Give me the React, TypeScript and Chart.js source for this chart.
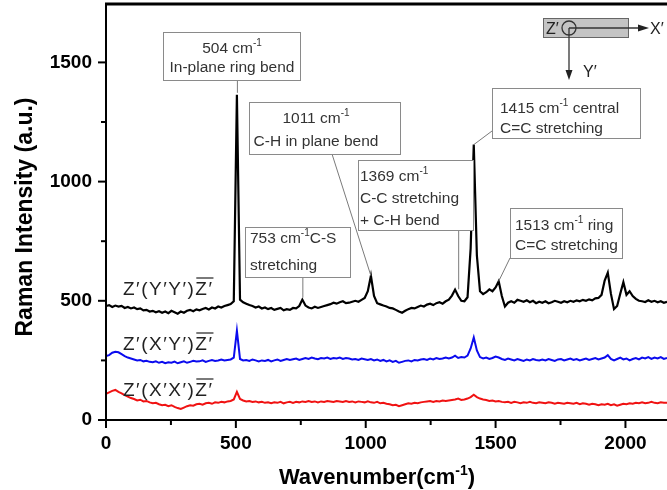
import React, { useEffect, useRef } from 'react';
import { Chart, registerables } from 'chart.js';
Chart.register(...registerables);

// Raman shift (cm^-1)
const wavenumbers = [
  0, 12, 24, 36, 48, 60, 72, 84, 96, 108,
  120, 132, 144, 156, 168, 180, 192, 204, 216, 228,
  240, 252, 264, 276, 288, 300, 312, 324, 336, 348,
  360, 372, 384, 396, 408, 420, 432, 444, 456, 468,
  480, 492, 504, 516, 528, 540, 552, 564, 576, 588,
  600, 612, 624, 636, 648, 660, 672, 684, 696, 708,
  720, 732, 744, 756, 768, 780, 792, 804, 816, 828,
  840, 852, 864, 876, 888, 900, 912, 924, 936, 948,
  960, 972, 984, 996, 1008, 1020, 1032, 1044, 1056, 1068,
  1080, 1092, 1104, 1116, 1128, 1140, 1152, 1164, 1176, 1188,
  1200, 1212, 1224, 1236, 1248, 1260, 1272, 1284, 1296, 1308,
  1320, 1332, 1344, 1356, 1368, 1380, 1392, 1404, 1416, 1428,
  1440, 1452, 1464, 1476, 1488, 1500, 1512, 1524, 1536, 1548,
  1560, 1572, 1584, 1596, 1608, 1620, 1632, 1644, 1656, 1668,
  1680, 1692, 1704, 1716, 1728, 1740, 1752, 1764, 1776, 1788,
  1800, 1812, 1824, 1836, 1848, 1860, 1872, 1884, 1896, 1908,
  1920, 1932, 1944, 1956, 1968, 1980, 1992, 2004, 2016, 2028,
  2040, 2052, 2064, 2076, 2088, 2100, 2112, 2124, 2136, 2148,
  2160,
];

// Z'(Y'Y')Z' (black)
const yyIntensity = [
  478, 482, 474, 480, 476, 479, 470, 474, 468, 472,
  465, 468, 460, 462, 455, 458, 452, 456, 450, 455,
  448, 458, 452, 446, 455, 450, 458, 462, 456, 464,
  460, 466, 470, 464, 472, 468, 476, 472, 478, 482,
  486, 498, 1364, 505, 494, 488, 482, 478, 472, 476,
  468, 472, 465, 470, 462, 466, 470, 460, 465, 462,
  470, 468, 478, 505, 480, 472, 468, 475, 470, 474,
  478, 482, 486, 492, 488, 494, 498, 490, 492, 496,
  500, 496, 504, 512, 540, 605, 520, 490, 485, 480,
  476, 470, 468, 462, 455, 450, 458, 465, 470, 468,
  474, 480, 476, 484, 488, 482, 490, 494, 488, 498,
  505, 522, 547, 520, 500, 498, 515, 720, 1155, 690,
  540, 528, 536, 548, 540, 556, 582, 520, 476, 492,
  498, 492, 504, 500, 496, 502, 494, 500, 490, 496,
  492, 498, 490, 494, 500, 496, 492, 498, 494, 500,
  496, 502, 498, 504, 500, 506, 502, 510, 512, 525,
  585, 618, 530, 465, 478, 530, 578, 525, 540, 520,
  508, 500, 498, 495, 502, 496, 500, 494, 498, 492,
  496,
];

// Z'(X'Y')Z' (blue)
const xyIntensity = [
  268, 272, 282, 286, 284, 276, 268, 262, 258, 254,
  250, 252, 246, 248, 244, 242, 246, 240, 244, 238,
  242, 240, 245, 238, 242, 246, 240, 244, 248, 245,
  246, 250, 244, 248, 252, 248, 250, 254, 250, 252,
  254, 262, 375, 256, 250, 252, 248, 254, 250, 246,
  250, 248, 252, 246, 250, 254, 248, 252, 256, 252,
  255, 258, 252, 256, 260, 256, 262, 258, 255, 260,
  258, 262, 256, 260, 258, 262, 256, 260, 258, 254,
  256, 252, 258, 255, 252, 256, 250, 254, 248, 252,
  246, 250, 244, 248, 240, 244, 248, 250, 246, 252,
  250, 254, 256, 252, 258, 254, 260, 256, 258, 262,
  258, 262, 270, 260, 264, 262, 270, 300, 346, 292,
  264, 258, 262, 256, 260, 266, 262, 256, 252, 258,
  254, 250, 256, 252, 248, 254, 250, 256, 252, 250,
  254, 250, 256, 252, 248, 254, 256, 250, 254, 258,
  252, 256, 250, 254, 258, 252, 256, 260, 254, 258,
  262, 272, 256, 250, 256, 262, 254, 258, 250, 256,
  260, 254, 262, 258, 264, 256, 262, 258, 264, 256,
  260,
];

// Z'(X'X')Z' (red)
const xxIntensity = [
  110, 116, 122, 126, 118, 112, 104, 98, 92, 88,
  82, 85, 78, 80, 74, 70, 72, 66, 62, 64,
  58, 62, 55, 50, 46, 52, 58, 62, 60, 66,
  68, 64, 70, 72, 68, 74, 72, 76, 74, 78,
  80, 86, 118, 88, 82, 78, 80, 76, 78, 74,
  76, 72, 74, 70, 74, 72, 76, 70, 74, 76,
  72, 76, 74, 78, 76, 80, 76, 78, 74, 78,
  76, 80, 78, 76, 80, 78, 76, 80, 76, 78,
  74, 78, 76, 74, 78, 74, 72, 76, 70, 72,
  68, 66, 62, 64, 58, 62, 66, 70, 68, 72,
  70, 74, 76, 78, 80, 76, 80, 78, 82, 80,
  82, 84, 86, 90, 84, 86, 90, 96, 106, 96,
  90, 86, 84, 80, 82, 78, 80, 76, 74, 76,
  72, 76, 74, 70, 74, 72, 76, 72, 70, 74,
  72, 70, 74, 72, 68, 72, 70, 68, 72, 70,
  68, 72, 66, 70, 68, 64, 68, 66, 62, 66,
  64, 68, 62, 66, 60, 64, 68, 66, 70, 68,
  72, 70, 74, 70, 72, 76, 72, 70, 74, 72,
  72,
];

const xTickValues = [0, 500, 1000, 1500, 2000];
const yTickValues = [0, 500, 1000, 1500];

const seriesPrefixes = ['Z′(Y′Y′)', 'Z′(X′Y′)', 'Z′(X′X′)'];
const seriesColors = ['#000000', '#0b0bee', '#f01212'];

// Peak annotations: anchor wavenumber / intensity and text
const peakWavenumbers = [504, 1020, 756, 1356, 1416, 1512];
const peakTopIntensity = [1364, 605, 505, 540, 1155, 582];
const peakTexts = [
  [[['504 cm'], ['-1', 1]], [['In-plane ring bend']]],
  [[['1011 cm'], ['-1', 1]], [['C-H in plane bend']]],
  [[['753 cm'], ['-1', 1], ['C-S']], [['stretching']]],
  [[['1369 cm'], ['-1', 1]], [['C-C stretching']], [['+ C-H bend']]],
  [[['1415 cm'], ['-1', 1], [' central']], [['C=C stretching']]],
  [[['1513 cm'], ['-1', 1], [' ring']], [['C=C stretching']]],
];

// layout of annotation boxes (pixels)
const noteLayout = [
  { box: [163, 32, 300, 80], tx: 232, align: 'center', bl: [53, 72], from: [239, 80], mode: 'v' },
  { box: [249, 102, 400, 154], tx: 316, align: 'center', bl: [123, 146], from: [332, 154], mode: 'd' },
  { box: [245, 227, 350, 277], tx: 250, align: 'left', bl: [243, 270], from: [0, 277], mode: 'v' },
  { box: [358, 160, 473, 230], tx: 360, align: 'left', bl: [181, 203, 225], from: [0, 230], mode: 'v' },
  { box: [492, 88, 640, 138], tx: 500, align: 'left', bl: [113, 133], from: [492, 131], mode: 'd' },
  { box: [510, 208, 622, 258], tx: 515, align: 'left', bl: [230, 250], from: [510, 258], mode: 'd' },
];

const FONT = '"Liberation Sans", Arial, "DejaVu Sans", sans-serif';

function drawRich(ctx: CanvasRenderingContext2D, parts: any[], x: number, y: number, size: number, weight: string, align: string) {
  const base = `${weight} ${size}px ${FONT}`;
  const sup = `${weight} ${Math.round(size * 0.62)}px ${FONT}`;
  let total = 0;
  const widths = parts.map((p) => {
    ctx.font = p[1] ? sup : base;
    const w = ctx.measureText(p[0]).width;
    total += w;
    return w;
  });
  let cx = align === 'center' ? x - total / 2 : x;
  ctx.textAlign = 'left';
  ctx.textBaseline = 'alphabetic';
  parts.forEach((p, i) => {
    ctx.font = p[1] ? sup : base;
    ctx.fillText(p[0], cx, p[1] ? y - size * 0.42 : y);
    cx += widths[i];
  });
}

function seg(ctx: CanvasRenderingContext2D, x1: number, y1: number, x2: number, y2: number) {
  ctx.beginPath();
  ctx.moveTo(x1, y1);
  ctx.lineTo(x2, y2);
  ctx.stroke();
}

const decorPlugin = {
  id: 'decor',
  afterDraw(chart: any) {
    const { ctx, chartArea: ca, scales } = chart;
    const xs = scales.x;
    const ys = scales.y;
    ctx.save();

    // axis frame
    ctx.strokeStyle = '#000';
    ctx.lineWidth = 2;
    seg(ctx, ca.left, ca.top - 1, ca.left, ca.bottom + 1);
    seg(ctx, ca.left - 1, ca.bottom, ca.right, ca.bottom);
    ctx.lineWidth = 3;
    seg(ctx, ca.left - 1, ca.top, ca.right, ca.top);

    // tick marks (major + minor)
    ctx.lineWidth = 2;
    for (let v = 0; v <= ys.max; v += 250) {
      const py = ys.getPixelForValue(v);
      const len = v % 500 === 0 ? 8 : 5;
      seg(ctx, ca.left, py, ca.left - len, py);
    }
    for (let v = 0; v <= xs.max; v += 250) {
      const px = xs.getPixelForValue(v);
      const len = v % 500 === 0 ? 8 : 5;
      seg(ctx, px, ca.bottom, px, ca.bottom + len);
    }

    // axis titles
    ctx.fillStyle = '#000';
    drawRich(ctx, [['Wavenumber(cm'], ['-1', 1], [')']], 377, 484, 22, 'bold', 'center');
    ctx.save();
    ctx.translate(32, 217);
    ctx.rotate(-Math.PI / 2);
    drawRich(ctx, [['Raman Intensity (a.u.)']], 0, 0, 23, 'bold', 'center');
    ctx.restore();

    // series labels
    const labelBase = [295, 350, 396];
    seriesPrefixes.forEach((pre, i) => {
      ctx.save();
      ctx.fillStyle = '#222';
      ctx.font = `19px ${FONT}`;
      (ctx as any).letterSpacing = '1.5px';
      ctx.textAlign = 'left';
      ctx.textBaseline = 'alphabetic';
      const x0 = 123;
      ctx.fillText(pre, x0, labelBase[i]);
      const w1 = ctx.measureText(pre).width;
      ctx.fillText('Z′', x0 + w1, labelBase[i]);
      const w2 = ctx.measureText('Z′').width;
      ctx.strokeStyle = '#222';
      ctx.lineWidth = 1.2;
      seg(ctx, x0 + w1 + 1, labelBase[i] - 17, x0 + w1 + w2, labelBase[i] - 17);
      ctx.restore();
    });

    // peak annotations
    noteLayout.forEach((n, i) => {
      const [bx1, by1, bx2, by2] = n.box;
      const px = xs.getPixelForValue(peakWavenumbers[i]);
      const py = ys.getPixelForValue(peakTopIntensity[i]);
      ctx.strokeStyle = '#7a7a7a';
      ctx.lineWidth = 1;
      if (n.mode === 'v') {
        seg(ctx, px + 0.5, by2, px + 0.5, py - 2);
      } else {
        seg(ctx, n.from[0], n.from[1], px, py);
      }
      ctx.fillStyle = '#ffffff';
      ctx.fillRect(bx1, by1, bx2 - bx1, by2 - by1);
      ctx.strokeStyle = '#8a8a8a';
      ctx.strokeRect(bx1 + 0.5, by1 + 0.5, bx2 - bx1, by2 - by1);
      ctx.fillStyle = '#333';
      peakTexts[i].forEach((line: any, j: number) => {
        drawRich(ctx, line, n.tx, n.bl[j], 15.5, 'normal', n.align);
      });
    });

    // orientation inset
    ctx.fillStyle = '#c4c4c4';
    ctx.fillRect(543, 18, 85, 19);
    ctx.strokeStyle = '#666';
    ctx.lineWidth = 1;
    ctx.strokeRect(543.5, 18.5, 85, 19);
    ctx.fillStyle = '#222';
    ctx.font = `16px ${FONT}`;
    ctx.textAlign = 'left';
    ctx.textBaseline = 'alphabetic';
    ctx.fillText('Z′', 546, 34);
    ctx.strokeStyle = '#333';
    ctx.lineWidth = 1.3;
    ctx.beginPath();
    ctx.arc(569, 28, 7, 0, Math.PI * 2);
    ctx.stroke();
    seg(ctx, 569, 28, 640, 28);
    seg(ctx, 569, 28, 569, 72);
    ctx.fillStyle = '#222';
    ctx.beginPath();
    ctx.moveTo(649, 28); ctx.lineTo(638, 24.5); ctx.lineTo(638, 31.5); ctx.closePath(); ctx.fill();
    ctx.beginPath();
    ctx.moveTo(569, 80); ctx.lineTo(565.5, 70); ctx.lineTo(572.5, 70); ctx.closePath(); ctx.fill();
    ctx.font = `16px ${FONT}`;
    ctx.fillText('X′', 650, 34);
    ctx.fillText('Y′', 583, 77);

    ctx.restore();
  },
};

export default function App() {
  const canvasRef = useRef<HTMLCanvasElement | null>(null);

  useEffect(() => {
    if (!canvasRef.current) return;
    const series = [yyIntensity, xyIntensity, xxIntensity];
    const chart = new Chart(canvasRef.current, {
      type: 'line',
      data: {
        datasets: series.map((vals, i) => ({
          label: seriesPrefixes[i],
          data: wavenumbers.map((w, k) => ({ x: w, y: vals[k] })),
          borderColor: seriesColors[i],
          borderWidth: i === 0 ? 2.2 : 2,
          pointRadius: 0,
          tension: 0,
          fill: false,
        })),
      },
      options: {
        responsive: false,
        animation: false,
        devicePixelRatio: 1,
        layout: { padding: { top: 4, right: 0, left: 0, bottom: 0 } },
        plugins: { legend: { display: false }, tooltip: { enabled: false } },
        scales: {
          x: {
            type: 'linear',
            min: 0,
            max: 2160,
            afterFit: (s: any) => { s.height = 70; s.paddingLeft = 0; s.paddingRight = 0; },
            afterBuildTicks: (s: any) => { s.ticks = xTickValues.map((v) => ({ value: v })); },
            border: { display: false },
            grid: { display: true, drawOnChartArea: false, drawTicks: true, tickLength: 8, color: 'rgba(0,0,0,0)' },
            ticks: {
              autoSkip: false,
              maxRotation: 0,
              padding: 4,
              color: '#000',
              font: { family: FONT, size: 19, weight: 'bold' },
              callback: (v: any) => String(v),
            },
          },
          y: {
            type: 'linear',
            min: 0,
            max: 1745,
            afterFit: (s: any) => { s.width = 106; s.paddingTop = 0; s.paddingBottom = 0; },
            afterBuildTicks: (s: any) => { s.ticks = yTickValues.map((v) => ({ value: v })); },
            border: { display: false },
            grid: { display: true, drawOnChartArea: false, drawTicks: true, tickLength: 8, color: 'rgba(0,0,0,0)' },
            ticks: {
              autoSkip: false,
              padding: 6,
              color: '#000',
              font: { family: FONT, size: 19, weight: 'bold' },
              callback: (v: any) => String(v),
            },
          },
        },
      },
      plugins: [decorPlugin],
    } as any);
    return () => chart.destroy();
  }, []);

  return (
    <div style={{ position: 'absolute', left: 0, top: 0, width: 667, height: 490, background: '#fff' }}>
      <canvas ref={canvasRef} width={667} height={490} style={{ display: 'block' }} />
    </div>
  );
}
